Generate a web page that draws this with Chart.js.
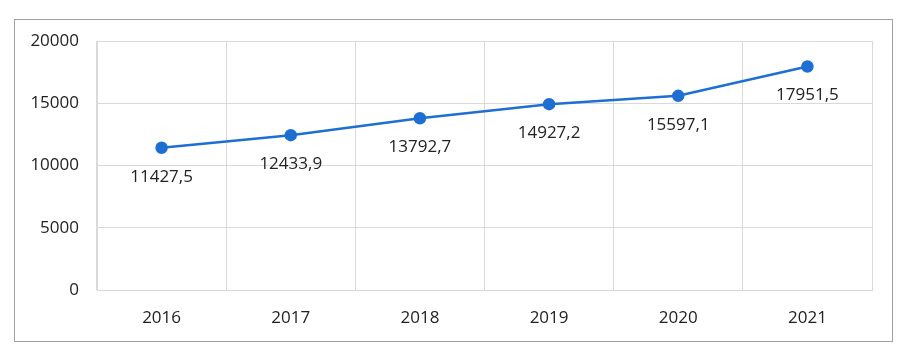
<!DOCTYPE html>
<html>
<head>
<meta charset="utf-8">
<script src="https://cdn.jsdelivr.net/npm/chart.js@4/dist/chart.umd.min.js"></script>
<style>
  html, body { margin: 0; padding: 0; background: #fff; }
  #wrap { position: relative; width: 903px; height: 362px; }
  #frame { position: absolute; left: 14px; top: 19px; width: 877px; height: 321px; border: 1.5px solid #a0a0a0; pointer-events: none; }
</style>
</head>
<body>
<div id="wrap">
  <canvas id="grafica" width="903" height="362"></canvas>
  <div id="frame"></div>
</div>
<script>
// Datos de la gráfica
const anios = ['2016', '2017', '2018', '2019', '2020', '2021'];
const valores = [11427.5, 12433.9, 13792.7, 14927.2, 15597.1, 17951.5];
const ticksY = [0, 5000, 10000, 15000, 20000];

const formatoComa = (v) => String(v).replace('.', ',');

// Etiquetas de datos debajo de cada punto
const etiquetasPlugin = {
    id: 'etiquetas',
    afterDatasetsDraw(chart) {
        const ctx = chart.ctx;
        const meta = chart.getDatasetMeta(0);
        ctx.save();
        ctx.font = '17px "Open Sans"';
        ctx.fillStyle = '#222';
        ctx.textAlign = 'center';
        ctx.textBaseline = 'middle';
        meta.data.forEach((pt, i) => {
            ctx.fillText(formatoComa(valores[i]), pt.x, pt.y + 29);
        });
        ctx.restore();
    }
};

new Chart(document.getElementById('grafica'), {
    type: 'line',
    data: {
        labels: anios,
        datasets: [{
            data: valores,
            borderColor: '#1d6fd2',
            backgroundColor: '#1d6fd2',
            borderWidth: 2.5,
            pointRadius: 5,
            pointBackgroundColor: '#1d6fd2',
            pointBorderColor: '#1d6fd2',
            tension: 0
        }]
    },
    options: {
        responsive: false,
        animation: false,
        layout: { padding: { left: 0, right: 31, top: 41, bottom: 0 } },
        plugins: { legend: { display: false }, tooltip: { enabled: false } },
        scales: {
            x: {
                offset: true,
                grid: { color: '#d9d9d9', drawTicks: false, offset: true },
                border: { color: '#d9d9d9' },
                ticks: { color: '#222', font: { family: 'Open Sans', size: 17 }, padding: 18 },
                afterFit: (s) => { s.height = 72; }
            },
            y: {
                min: 0,
                max: 20000,
                afterBuildTicks: (s) => { s.ticks = ticksY.map(v => ({ value: v })); },
                grid: { color: '#d9d9d9', drawTicks: false },
                border: { color: '#d9d9d9' },
                ticks: {
                    color: '#222',
                    font: { family: 'Open Sans', size: 17 },
                    padding: 18,
                    callback: (v) => String(v)
                },
                afterFit: (s) => { s.width = 97; }
            }
        }
    },
    plugins: [etiquetasPlugin]
});
</script>
</body>
</html>
